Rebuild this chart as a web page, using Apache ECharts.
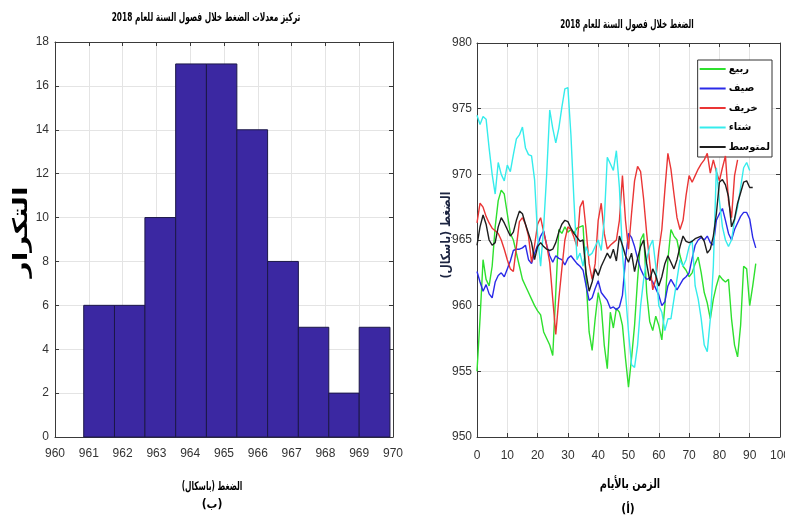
<!DOCTYPE html>
<html><head><meta charset="utf-8">
<script src="https://cdn.jsdelivr.net/npm/echarts@6/dist/echarts.min.js"></script>
<style>html,body{margin:0;padding:0;background:#fff}#c{width:785px;height:519px}</style>
</head><body><div id="c"></div>
<script>
// Histogram (left chart)
const binEdges = [960.85, 961.76, 962.66, 963.57, 964.48, 965.38, 966.29, 967.2, 968.1, 969.0, 969.91];
const binCounts = [6, 6, 10, 17, 17, 14, 8, 5, 2, 5];
const histXTicks = [960, 961, 962, 963, 964, 965, 966, 967, 968, 969, 970];
const histYTicks = [0, 2, 4, 6, 8, 10, 12, 14, 16, 18];

// Seasonal pressure series (right chart), one value per day starting at day 0
const seriesNames = ['ربيع', 'صيف', 'خريف', 'شتاء', 'لمتوسط'];
const spring = [955,959,963.5,962,961.5,963,966,968,968.8,968.5,967,965.5,965,964,963,962,961.5,961,960.5,960,959.6,959.3,958,957.5,957,956.2,961,965.8,965.5,966,965.6,965.8,965.5,965.9,966,966.1,962,958,956.6,959,961,960,957,955.2,959.5,958.3,959.8,959.5,958.5,956,953.8,956,958.5,962,965,965.5,961,958.8,958.1,959.2,958.5,957.4,960,963.5,965.8,965.3,965,963.8,963,962.7,962.2,962.5,963.2,963.7,962.5,961,960.2,959,960.5,961.5,962.3,962,961.8,962,959,957,956.1,958.5,963,962.8,960,961.5,963.2];
const summer = [962.6,961.8,961.1,961.6,960.9,960.6,961.8,962.3,962.5,962.2,962.8,963.4,964.2,964.3,964.3,964.4,964.6,963.5,963.2,964,964.6,965.3,965.7,964.6,963.8,963.3,963.8,963.6,963.5,963.1,963.6,963.8,963.5,963.2,963,962.7,961.5,960.4,960.6,961.3,961.9,961,960.7,960.4,959.8,959.9,959.7,959.9,960.8,963.5,965.5,965.2,964.5,963.6,962.8,962.3,962,962.1,961.8,961.3,960.8,960,960.3,961.5,962,961.6,961.2,961.6,962,962.2,962.5,963.6,964.6,965,965.2,965,965.3,964.8,964.6,966.5,967,967.4,966.5,965.5,965,965.8,966.3,966.8,967.1,967.1,966.6,965.2,964.4];
const autumn = [966.3,967.8,967.5,966.8,966.3,965.9,965.7,965.5,965,964.3,963.5,962.8,962.6,964.5,966.4,966.7,966.2,965.3,963.3,964.6,966.2,966.7,965.6,964.6,963.3,960.5,957.8,960.5,962.8,965,966,965.8,965.2,964.5,967.5,968,965.8,963.2,962,963.2,966.5,967.8,965.5,964.3,964.6,964.8,965,966.5,969.9,966.5,964.3,967,969.5,970.6,970.2,968.1,965.5,963.3,961.2,962,964.2,965.8,968.8,971.6,970.4,968.5,966.7,965.8,966.5,968.4,969.9,969.4,969.9,970.4,970.8,971.1,971.6,970.1,971.1,970.2,969.5,970.5,971.4,968,966.7,969.9,971.1];
const winter = [974.5,973.8,974.4,974.2,972,970,968.5,970.9,970,969.5,970.7,970.2,971.5,972.7,973,973.6,972,971.5,971.4,969.6,965.3,963,966,970,974.9,973.5,972.4,973.5,975.1,976.5,976.6,973,968,963.5,964,963,964.5,963.8,964,964.5,965,964.2,966.5,971.3,970.8,970.3,971.8,969,964,961,958,955.5,955.3,957,960,962,963.5,964.5,965,963,960,959.5,958.1,959,959,960.5,962,963.5,963,963.5,964.5,965,961.5,960.5,959,957,956.5,959,963,970.5,968,966,965,964.5,965,966.5,967.5,969,970.5,970.9,970.3];
const average = [964.6,966,966.9,966.2,965,964.6,964.8,966,966.7,966.3,965.8,965.3,965.6,966.5,967.2,967,966.2,965.5,964.8,963.5,964.5,964.8,964.5,964.3,964.2,964.3,964.8,965.6,966.2,966.5,966.4,965.9,965.5,965.2,964.9,965,962.5,961.1,961.8,962.8,962.3,963,963.5,964,963.6,964.3,963.4,965.3,964.6,963.8,963.3,964,962.6,963.6,964.5,965,963.2,961.9,962.8,962.3,961.5,962.2,963.2,963.8,963.3,962.8,963.5,964.5,965.3,964.9,964.8,964.9,965.1,965.2,965.3,964.9,964,964.3,965.3,967,969.4,969.6,969.2,968.3,966,966.6,967.8,968.6,969.4,969.5,969,969];
const seriesColors = ['#2ee02e', '#2a2ae8', '#ea3535', '#35ecec', '#1e1e1e'];

const chart = echarts.init(document.getElementById('c'), null, {renderer: 'canvas'});
const tickFont = {fontFamily: '"Liberation Sans Narrow","Liberation Sans",Arial,sans-serif', fontSize: 12, color: '#333'};
const arFont = '"DejaVu Sans",sans-serif';
const lineC = '#3a3a3a';
const split = {show: true, lineStyle: {color: '#e4e4e4', width: 1}};

function boxAxis(gridIndex, min, max, interval, position, labels, labelMargin) {
  return {
    type: 'value', gridIndex, min, max, interval, position,
    axisLine: {show: true, onZero: false, lineStyle: {color: lineC, width: 1}},
    axisTick: {show: true, inside: true, length: 4, lineStyle: {color: lineC}},
    axisLabel: labels ? Object.assign({show: true, margin: labelMargin, hideOverlap: false}, tickFont) : {show: false},
    splitLine: labels ? split : {show: false}
  };
}

const histData = binCounts.map((c, i) => [binEdges[i], binEdges[i + 1], c]);
const toXY = arr => arr.map((v, i) => [i, v]);
const lineData = [spring, summer, autumn, winter, average];

function txt(text, x, y, size, sx, rot, fill) {
  return {type: 'text', x, y, rotation: rot || 0, scaleX: sx, scaleY: 1,
    style: {text, font: 'bold ' + size + 'px ' + arFont, fill: fill || '#000',
      align: 'center', verticalAlign: 'middle', textAlign: 'center', textVerticalAlign: 'middle'}};
}

const option = {
  animation: false,
  backgroundColor: '#fff',
  grid: [
    {left: 55, right: 392, top: 42, bottom: 82, outerBoundsMode: 'none', containLabel: false},
    {left: 477, right: 5, top: 43, bottom: 82, outerBoundsMode: 'none', containLabel: false}
  ],
  xAxis: [
    boxAxis(0, histXTicks[0], histXTicks[histXTicks.length - 1], 1, 'bottom', true, 11),
    boxAxis(0, histXTicks[0], histXTicks[histXTicks.length - 1], 1, 'top', false, 0),
    boxAxis(1, 0, 100, 10, 'bottom', true, 13),
    boxAxis(1, 0, 100, 10, 'top', false, 0)
  ],
  yAxis: [
    boxAxis(0, histYTicks[0], histYTicks[histYTicks.length - 1], 2, 'left', true, 6),
    boxAxis(0, histYTicks[0], histYTicks[histYTicks.length - 1], 2, 'right', false, 0),
    boxAxis(1, 950, 980, 5, 'left', true, 5),
    boxAxis(1, 950, 980, 5, 'right', false, 0)
  ],
  legend: {
    data: seriesNames,
    orient: 'vertical',
    right: 13, top: 60,
    padding: [2, 2, 3, 2],
    itemWidth: 26, itemHeight: 2, itemGap: 5.5,
    icon: 'rect',
    backgroundColor: '#fff',
    borderColor: '#333', borderWidth: 1,
    textStyle: {fontFamily: arFont, fontWeight: 'bold', fontSize: 10, color: '#000', lineHeight: 14, padding: [0, 0, 0, -2]}
  },
  series: [
    {
      type: 'custom', xAxisIndex: 0, yAxisIndex: 0, data: histData, z: 3,
      renderItem: function (params, api) {
        const p0 = api.coord([api.value(0), api.value(2)]);
        const p1 = api.coord([api.value(1), 0]);
        return {type: 'rect', shape: {x: p0[0], y: p0[1], width: p1[0] - p0[0], height: p1[1] - p0[1]},
          style: {fill: '#3b28a2', stroke: '#1c1848', lineWidth: 1}};
      }
    }
  ].concat(seriesNames.map((n, i) => ({
    name: n, type: 'line', xAxisIndex: 2, yAxisIndex: 2, data: toXY(lineData[i]),
    showSymbol: false, symbol: 'none', color: seriesColors[i],
    lineStyle: {width: 1.4, color: seriesColors[i]}, z: 2 + i
  }))),
  graphic: [
    txt('تركيز معدلات الضغط خلال فصول السنة للعام 2018', 206, 18, 12, 0.62),
    txt('الضغط خلال فصول السنة للعام 2018', 627, 25, 12, 0.6),
    txt('الضغط (باسكال)', 212, 487, 12, 0.62),
    txt('(ب)', 212, 505, 12, 0.9),
    txt('الزمن بالأيام', 630, 485, 13, 0.75),
    txt('(أ)', 628, 510, 12, 0.9),
    txt('التكرار', 22, 232, 20, 1.4, Math.PI / 2),
    txt('الضغط (باسكال)', 447, 235, 13, 0.82, Math.PI / 2, '#1c2440')
  ]
};
chart.setOption(option);
</script>
</body></html>
